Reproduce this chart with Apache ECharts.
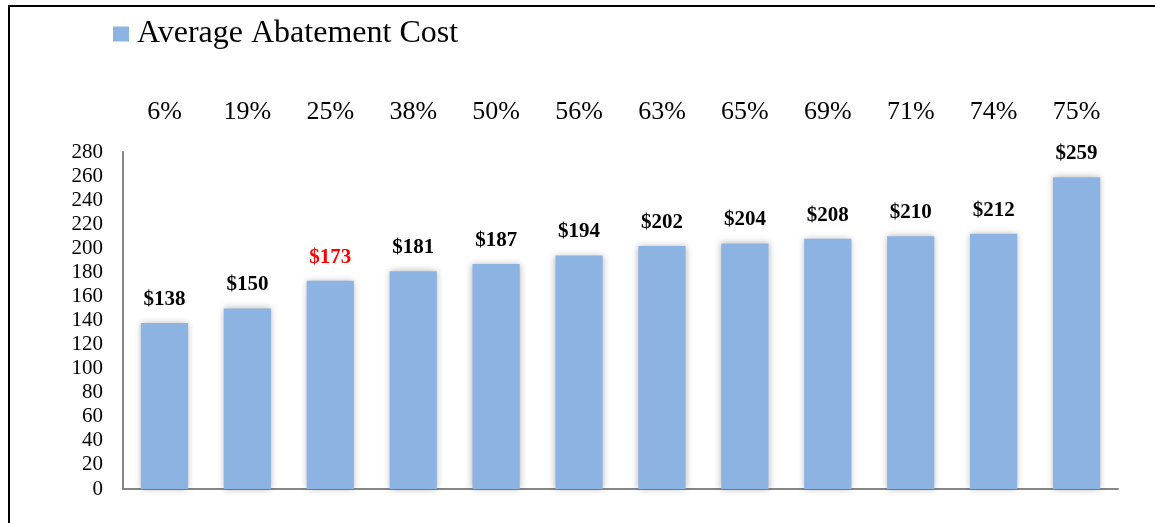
<!DOCTYPE html>
<html>
<head>
<meta charset="utf-8">
<script src="https://cdn.jsdelivr.net/npm/echarts@6/dist/echarts.min.js"></script>
<style>
  html, body { margin: 0; padding: 0; background: #fff; }
  #main { width: 1155px; height: 523px; }
</style>
</head>
<body>
<div id="main"></div>
<script>
var shares = ['6%', '19%', '25%', '38%', '50%', '56%', '63%', '65%', '69%', '71%', '74%', '75%'];
var costs = [138, 150, 173, 181, 187, 194, 202, 204, 208, 210, 212, 259];
var redIndex = 2; // the $173 label is red in the original

var serif = "'Liberation Serif', 'DejaVu Serif', serif";

var chart = echarts.init(document.getElementById('main'));

var option = {
  animation: false,
  backgroundColor: '#fff',
  textStyle: { fontFamily: serif },
  legend: {
    left: 108,
    top: 13,
    icon: 'rect',
    itemWidth: 16,
    itemHeight: 15,
    itemGap: 8,
    textStyle: { fontFamily: serif, fontSize: 32, color: '#000', padding: [0, 0, 0, 3] },
    data: ['Average Abatement Cost']
  },
  grid: { left: 123, right: 37, top: 152, bottom: 34 },
  xAxis: [
    {
      type: 'category',
      data: shares,
      position: 'bottom',
      axisLine: { lineStyle: { color: '#868686', width: 2 } },
      axisTick: { show: false },
      axisLabel: { show: false }
    },
    {
      type: 'category',
      data: shares,
      position: 'top',
      axisLine: { show: false },
      axisTick: { show: false },
      axisLabel: { fontFamily: serif, fontSize: 26, color: '#000', margin: 27 }
    }
  ],
  yAxis: {
    type: 'value',
    min: 0,
    max: 280,
    interval: 20,
    axisLine: { show: true, lineStyle: { color: '#868686', width: 2 } },
    axisTick: { show: false },
    splitLine: { show: false },
    axisLabel: { fontFamily: serif, fontSize: 21, color: '#000', margin: 20, padding: [5, 0, 0, 0] }
  },
  series: [
    {
      name: 'Average Abatement Cost',
      type: 'bar',
      barWidth: '57%',
      itemStyle: {
        color: '#8DB3E2',
        shadowColor: 'rgba(0,0,0,0.3)',
        shadowBlur: 7
      },
      label: {
        show: true,
        position: 'top',
        distance: 13,
        fontFamily: serif,
        fontSize: 21,
        fontWeight: 'bold',
        color: '#000',
        formatter: function (p) { return '$' + p.value; }
      },
      data: costs.map(function (v, i) {
        return i === redIndex ? { value: v, label: { color: '#FF0000' } } : v;
      })
    }
  ],
  graphic: [
    {
      type: 'polyline',
      shape: { points: [[9, 523], [9, 6], [1155, 6]] },
      style: { stroke: '#000', lineWidth: 2, fill: null }
    }
  ]
};

chart.setOption(option);
</script>
</body>
</html>
